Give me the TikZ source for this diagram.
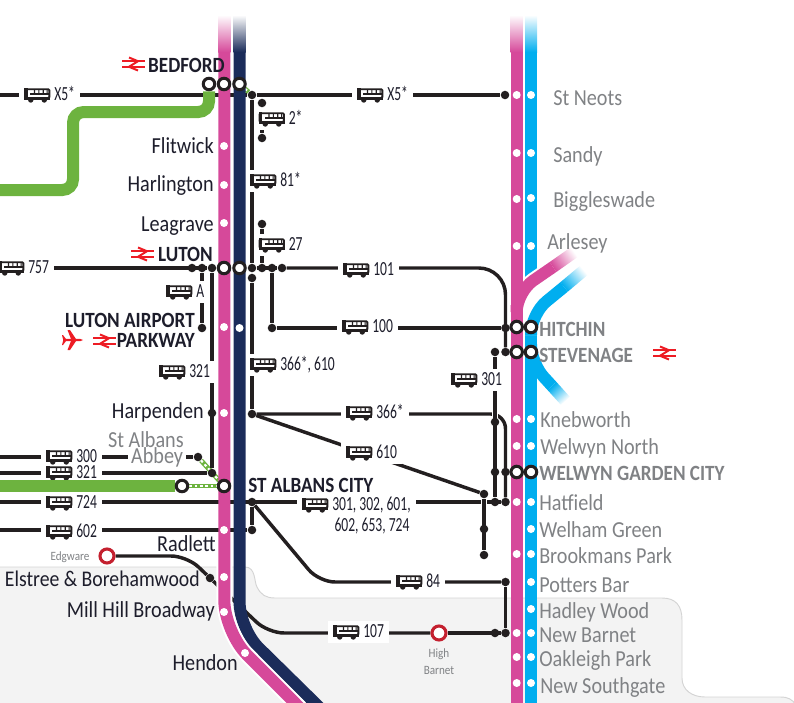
\documentclass[tikz,border=0pt]{standalone}
\usepackage{fontspec}
\usetikzlibrary{calc}
\newfontfamily\mapfont[FakeStretch=0.88]{Carlito}
\newfontfamily\busfont[FakeStretch=0.68]{Carlito}
\definecolor{tlpink}{HTML}{D6499A}
\definecolor{tlnavy}{HTML}{1B2C5A}
\definecolor{tlblue}{HTML}{00AEEF}
\definecolor{tlgreen}{HTML}{6DB33F}
\definecolor{busblack}{HTML}{231F20}
\definecolor{stnred}{HTML}{C4202F}
\definecolor{nrred}{HTML}{ED1C24}
\definecolor{stngrey}{HTML}{808285}
\definecolor{stndark}{HTML}{1D1D2B}
\definecolor{zonefill}{HTML}{F3F3F3}
\definecolor{zoneline}{HTML}{D4D4D4}
\pgfdeclarelayer{under}
\pgfdeclarelayer{lines}
\pgfdeclarelayer{rails}
\pgfsetlayers{under,lines,rails,main}
\tikzset{
  rail/.style={line width=9pt},
  casing/.style={draw=white, line width=12pt},
  busline/.style={draw=busblack, line width=2.6pt},
  halo/.style={busline, preaction={draw=white, line width=5pt}},
  greenlink/.style={draw=tlgreen, line width=3.6pt, postaction={draw=white, line width=1.6pt, dash pattern=on 2pt off 2pt}},
  bdot/.style={circle, fill=busblack, minimum size=6.4pt, inner sep=0pt},
  wdot/.style={circle, fill=white, minimum size=6pt, inner sep=0pt},
  stn/.style={circle, fill=white, draw=busblack, line width=2.3pt, minimum size=8.6pt, inner sep=0pt},
  redstn/.style={circle, fill=white, draw=stnred, line width=2.3pt, minimum size=10.5pt, inner sep=0pt},
  busicon/.pic={
    \draw[busblack, line width=1.4pt, rounded corners=0.8pt] (0.9,-5.8) rectangle (25.1,3);
    \fill[busblack] (0,-6.7) rectangle (3.6,4.4);
    \fill[busblack] (0,2.2) rectangle (26,4.8);
    \fill[busblack] (6,-1.6) rectangle (25,-0.2);
    \fill[busblack] (9.6,-5) rectangle (10.8,-0.4) (14,-5) rectangle (15.2,-0.4) (18.4,-5) rectangle (19.6,-0.4) (22.4,-5) rectangle (23.4,-0.4);
    \fill[busblack] (6.5,5) circle (2.7) (20,5) circle (2.7);
  },
  nrlogo/.pic={
    \draw[nrred, line width=1.5pt] (0,-2.8) -- (23,-2.8) (0,2.8) -- (23,2.8);
    \draw[nrred, line width=1.5pt] (7,-6.5) -- (16,-2.8) -- (7,2.8) -- (16,6.5);
  },
  planeicon/.pic={
    \fill[nrred] (-10,-1) -- (7,-1.2) -- (10,0) -- (7,1.2) -- (-10,1) -- cycle;
    \fill[nrred] (3,-1) -- (-3,-10) -- (-5.5,-10) -- (-2,-1) -- cycle;
    \fill[nrred] (3,1) -- (-3,10) -- (-5.5,10) -- (-2,1) -- cycle;
    \fill[nrred] (-7,-1) -- (-10,-5) -- (-11,-5) -- (-10,-1) -- cycle;
    \fill[nrred] (-7,1) -- (-10,5) -- (-11,5) -- (-10,1) -- cycle;
  },
  busroute/.style={anchor=west, fill=white, text=stndark, font=\busfont\fontsize{15}{16}\selectfont, inner xsep=3.75pt, inner ysep=0pt, minimum height=16.5pt, text height=7.5pt, text depth=0pt,
    execute at begin node={\hspace*{22.5pt}},
    path picture={\pic at ([xshift=3.75pt]path picture bounding box.west) {busicon};}},
  busflat/.style={busroute, minimum height=10.5pt},
  routetext/.style={anchor=base, text=stndark, font=\busfont\fontsize{15}{16}\selectfont, inner sep=0pt},
  stnname/.style={anchor=base east, text=stndark, font=\mapfont\fontsize{17.2}{18}\selectfont, inner sep=0pt},
  stnbold/.style={stnname, font=\mapfont\bfseries\fontsize{16.3}{18}\selectfont},
  farname/.style={anchor=base west, text=stngrey, font=\mapfont\fontsize{17.2}{18}\selectfont, inner sep=0pt},
  farbold/.style={farname, font=\mapfont\bfseries\fontsize{16.3}{18}\selectfont},
  smallname/.style={anchor=base, text=stngrey, font=\mapfont\fontsize{9.5}{11}\selectfont, inner sep=0pt}
}
\begin{document}
\begin{tikzpicture}[x=0.75pt, y=-0.75pt]
  \useasboundingbox (0,0) rectangle (794,703);

  % zone behind the lower part
  \begin{pgfonlayer}{under}
    \fill[zonefill, draw=zoneline, line width=0.7pt] (-2,567) -- (245,567) .. controls (256,567) and (254,582) .. (257,587) .. controls (261,595) and (266,598) .. (275,598) -- (662,598) .. controls (676,598) and (682,606) .. (682,620) -- (682,678) .. controls (682,690) and (692,697) .. (705,697) -- (780,697) .. controls (788,697) and (792,699) .. (796,705) -- (-2,705) -- cycle;
  \end{pgfonlayer}

  % station dots
  \node[wdot] (pFlit) at (224,146) {};
  \node[wdot] (pHarl) at (224,185) {};
  \node[wdot] (pLeag) at (224,223) {};
  \node[wdot] (pPark) at (224,327) {};
  \node[wdot] (nPark) at (239.5,328) {};
  \node[wdot] (pHarp) at (224,413) {};
  \node[wdot] (pRadl) at (224,530) {};
  \node[wdot] (pElst) at (224,577) {};
  \node[wdot] (pMill) at (224,612) {};
  \node[wdot] (pHend) at (245,653) {};
  \node[wdot] (pNeot) at (516.7,95) {};
  \node[wdot] (cNeot) at (531,95) {};
  \node[wdot] (pSand) at (516.7,153) {};
  \node[wdot] (cSand) at (531,153) {};
  \node[wdot] (pBigg) at (516.7,199) {};
  \node[wdot] (cBigg) at (531,198) {};
  \node[wdot] (pArle) at (516.7,246) {};
  \node[wdot] (cArle) at (531,246) {};
  \node[wdot] (pKneb) at (516.7,419) {};
  \node[wdot] (cKneb) at (531,419) {};
  \node[wdot] (pWNor) at (516.7,446) {};
  \node[wdot] (cWNor) at (531,446) {};
  \node[wdot] (pHatf) at (516.7,502) {};
  \node[wdot] (cHatf) at (531,502) {};
  \node[wdot] (cWelh) at (531,529) {};
  \node[wdot] (pBrok) at (516.7,554) {};
  \node[wdot] (cBrok) at (531,554) {};
  \node[wdot] (cPott) at (531,582) {};
  \node[wdot] (cHadl) at (531,609) {};
  \node[wdot] (pBarn) at (516.7,633) {};
  \node[wdot] (cBarn) at (531,633) {};
  \node[wdot] (pOakl) at (516.7,657) {};
  \node[wdot] (cOakl) at (531,657) {};
  \node[wdot] (pSout) at (516.7,683) {};
  \node[wdot] (cSout) at (531,683) {};

  % interchanges
  \node[stn] (bedG) at (209,84) {};
  \node[stn] (bedP) at (224,84) {};
  \node[stn] (bedN) at (239.5,84) {};
  \node[stn] (lutP) at (224,268) {};
  \node[stn] (lutN) at (239.5,268) {};
  \node[stn] (cityG) at (182,486) {};
  \node[stn] (cityP) at (224,486) {};
  \node[stn] (hitP) at (516.7,327) {};
  \node[stn] (hitC) at (531,327) {};
  \node[stn] (steP) at (516.7,352) {};
  \node[stn] (steC) at (531,352) {};
  \node[stn] (wgcP) at (516.7,472) {};
  \node[stn] (wgcC) at (531,472) {};
  \node[redstn] (edgw) at (107,556) {};
  \node[redstn] (high) at (439,633) {};

  % bus stops
  \node[bdot] (bBed) at (252,95) {};
  \node[bdot] (bNeot) at (505,95) {};
  \node[bdot] (b2top) at (262,103) {};
  \node[bdot] (b2bot) at (262,138) {};
  \node[bdot] (b27top) at (262,224) {};
  \node[bdot] (bLuA) at (192,268) {};
  \node[bdot] (bLuB) at (202,268) {};
  \node[bdot] (bLuC) at (212,268) {};
  \node[bdot] (bLuD) at (252,268) {};
  \node[bdot] (bLuE) at (262,268) {};
  \node[bdot] (bLuF) at (272,268) {};
  \node[bdot] (bLuG) at (282,268) {};
  \node[bdot] (bLuH) at (252,278) {};
  \node[bdot] (bPark) at (202,328) {};
  \node[bdot] (b100w) at (272,328) {};
  \node[bdot] (b100e) at (505.5,328) {};
  \node[bdot] (bSteA) at (495,352) {};
  \node[bdot] (bSteB) at (505.5,352) {};
  \node[bdot] (bHarp) at (212,413) {};
  \node[bdot] (bHarE) at (252,414) {};
  \node[bdot] (bKneb) at (495,422) {};
  \node[bdot] (bAbbey) at (198,457) {};
  \node[bdot] (b321e) at (212,473) {};
  \node[bdot] (bWgcA) at (495,472) {};
  \node[bdot] (bWgcB) at (505.5,472) {};
  \node[bdot] (b610e) at (484,494) {};
  \node[bdot] (bCity) at (252,502) {};
  \node[bdot] (bHatA) at (495,502) {};
  \node[bdot] (bHatB) at (505.5,502) {};
  \node[bdot] (b602e) at (252,530) {};
  \node[bdot] (bWelh) at (484,529) {};
  \node[bdot] (bBrok) at (484,555) {};
  \node[bdot] (bElst) at (210,578) {};
  \node[bdot] (b84e) at (505.5,582) {};
  \node[bdot] (bBarA) at (495,633) {};
  \node[bdot] (bBarB) at (505.5,633) {};

  % free ends and bends
  \coordinate (x5w) at (0,95);
  \coordinate (w757) at (0,268);
  \coordinate (w300) at (0,457);
  \coordinate (w321) at (0,473);
  \coordinate (w724) at (0,502);
  \coordinate (w602) at (0,530);
  \coordinate (greenw) at (0,486);
  \coordinate (edgwkink) at (187,556);
  \coordinate (barnkink) at (268,633);
  \coordinate (kink84) at (319,582);
  \coordinate (bend101) at (505.5,268);

  \begin{pgfonlayer}{under}
    \draw[greenlink] (bAbbey) -- (cityP);
    \draw[greenlink] (cityG) -- (cityP);
    \draw[greenlink] (bedN) -- (bBed);
  \end{pgfonlayer}

  % bus links
  \begin{pgfonlayer}{lines}
    \draw[busline] (x5w) -- (bBed) -- (bNeot);
    \draw[busline] (bBed) -- (bLuD);
    \draw[busline] (b2top) -- (b2bot);
    \draw[busline] (b27top) -- (bLuE);
    \draw[busline] (w757) -- (bLuC);
    \draw[busline] (bLuD) -- (bLuG);
    \draw[busline, rounded corners=20pt] (bLuG) -- (bend101) -- (bSteB);
    \draw[busline] (bLuF) -- (b100w) -- (b100e);
    \draw[busline] (bLuB) -- (bPark);
    \draw[busline] (bLuC) -- (b321e);
    \draw[busline] (bLuH) -- (bHarE);
    \draw[busline, rounded corners=11pt] (bHarE) -| (bHatB);
    \draw[busline] (bHarE) -- (b610e);
    \draw[busline] (w300) -- (bAbbey);
    \draw[busline] (w321) -- (b321e);
    \draw[busline] (w602) -- (b602e);
    \draw[busline] (bCity) -- (b602e);
    \draw[busline, rounded corners=12pt] (bCity) -- (kink84) -- (b84e);
    \draw[busline] (b84e) -- (bBarB);
    \draw[busline] (w724) -- (bHatB);
    \draw[halo] (bSteA) -- (bHatA);
    \draw[halo] (b610e) -- (bBrok);
    \draw[busline, rounded corners=12pt] (edgw) -- (edgwkink) -- (bElst) -- (barnkink) -- (high);
    \draw[busline] (high) -- (bBarB);

    \node[busroute] (x5a) at (19,95) {X5*};
    \node[busroute] (x5b) at (352,95) {X5*};
    \node[busroute] (r2) at (253.5,119) {2*};
    \node[busroute] (r81) at (245,181) {81*};
    \node[busroute] (r27) at (253.5,245) {27};
    \node[busroute] (r757) at (-7,268) {757};
    \node[busroute] (r101) at (338,270) {101};
    \node[busroute] (r100) at (337,327) {100};
    \node[busroute] (rA) at (161,292) {A};
    \node[busroute] (r321n) at (154,372) {321};
    \node[busroute] (r366a) at (245,365) {366*, 610};
    \node[busroute] (r366) at (341,413) {366*};
    \node[busroute] (r610) at (341,453) {610};
    \node[busroute] (r301) at (446,380) {301};
    \node[busflat] (r300) at (41,457) {300};
    \node[busflat] (r321) at (41,473) {321};
    \node[busflat] (r724) at (41,503) {724};
    \node[busflat] (r602) at (41,532) {602};
    \node[busflat] (r301m) at (297,505) {301, 302, 601,};
    \node[busroute] (r84) at (391,582) {84};
    \node[busroute] (r107) at (328,632) {107};
    \node[anchor=base east, fill=white, text=stngrey, font=\mapfont\fontsize{17.2}{18}\selectfont, inner xsep=2pt, inner ysep=1pt] (lAbbey) at (186,463) {Abbey};
  \end{pgfonlayer}

  % rail lines
  \begin{pgfonlayer}{rails}
    \coordinate (pinkkink) at (224.3,632);
    \coordinate (navykink) at (239.6,629);
    \coordinate (pinkend) at (300,708);
    \coordinate (navyend) at (320,708);
    \coordinate (pbkink) at (516.7,292);
    \coordinate (cbkink) at (531,314);
    \coordinate (cskink) at (531,363);
    \shade[top color=white, bottom color=tlnavy] (233.5,15) rectangle (245.7,52);
    \draw[tlnavy, rail, rounded corners=20pt] (239.6,52) -- (navykink) -- (navyend);
    \draw[white, line width=12pt, rounded corners=24pt] (224.3,560) -- (pinkkink) -- (pinkend);
    \shade[top color=white, bottom color=tlpink] (218.3,15) rectangle (230.3,52);
    \draw[tlpink, rail, rounded corners=24pt] (224.3,52) -- (pinkkink) -- (pinkend);

    \shade[top color=white, bottom color=tlblue] (525,15) rectangle (537.2,52);
    \draw[tlblue, rail] (531,52) -- (531,285);
    \draw[tlblue, rail] (531,327) -- (531,708);
    \draw[tlblue, rail, rounded corners=14pt] (531,345) -- (cskink) -- (552,386);
    \shade[left color=tlblue, right color=white, transform canvas={shift={(552,386)}, rotate=-48}] (0,-6) rectangle (20,6);
    \draw[casing, rounded corners=15pt] (531,335) -- (cbkink) -- (564,287);
    \draw[tlblue, rail, rounded corners=15pt] (531,335) -- (cbkink) -- (564,287);
    \shade[left color=tlblue, right color=white, transform canvas={shift={(564,287)}, rotate=40}] (0,-6) rectangle (26,6);
    \draw[casing, rounded corners=15pt] (516.7,305) -- (pbkink) -- (553,267);
    \shade[top color=white, bottom color=tlpink] (510.7,15) rectangle (522.7,52);
    \draw[tlpink, rail] (516.7,52) -- (516.7,708);
    \draw[tlpink, rail, rounded corners=15pt] (516.7,305) -- (pbkink) -- (553,267);
    \shade[left color=tlpink, right color=white, transform canvas={shift={(553,267)}, rotate=35}] (0,-6) rectangle (26,6);
    \draw[tlgreen, rail, rounded corners=8pt] (bedG) -- (209,112) -- (73,112) -- (73,190) -- (0,190);
    \draw[tlgreen, rail] (greenw) -- (cityG);
  \end{pgfonlayer}

  % names
  \node[stnbold] (lBedf) at (225,72) {BEDFORD};
  \node[stnname] (lFlit) at (214,153) {Flitwick};
  \node[stnname] (lHarl) at (214,191) {Harlington};
  \node[stnname] (lLeag) at (214,231) {Leagrave};
  \node[stnbold] (lLuto) at (213,261) {LUTON};
  \node[stnbold] (lAirp) at (195,327) {LUTON AIRPORT};
  \node[stnbold] (lPark) at (195,347) {PARKWAY};
  \node[stnname] (lHarp) at (204,418) {Harpenden};
  \node[anchor=base east, text=stngrey, font=\mapfont\fontsize{17.2}{18}\selectfont, inner sep=0pt] (lStAl) at (184,447) {St Albans};
  \node[stnbold, anchor=base west] (lCity) at (248,492) {ST ALBANS CITY};
  \node[stnname] (lRadl) at (216,551) {Radlett};
  \node[stnname, font=\mapfont\fontsize{16.8}{18}\selectfont] (lElst) at (200,586) {Elstree \& Borehamwood};
  \node[stnname] (lMill) at (215,617) {Mill Hill Broadway};
  \node[stnname] (lHend) at (238,670) {Hendon};
  \node[smallname] (lEdgw) at (70,560) {Edgware};
  \node[smallname] (lHigh) at (439,657) {High};
  \node[smallname] (lBarn) at (439,674) {Barnet};
  \node[farname] (lNeot) at (553,105) {St Neots};
  \node[farname] (lSand) at (553,162) {Sandy};
  \node[farname] (lBigg) at (553,207) {Biggleswade};
  \node[farname] (lArle) at (547,249) {Arlesey};
  \node[farbold] (lHitc) at (539,336) {HITCHIN};
  \node[farbold] (lStev) at (539,362) {STEVENAGE};
  \node[farname] (lKneb) at (540,427) {Knebworth};
  \node[farname] (lWNor) at (540,454) {Welwyn North};
  \node[farbold] (lWgc) at (539,480) {WELWYN GARDEN CITY};
  \node[farname] (lHatf) at (539,510) {Hatfield};
  \node[farname] (lWelh) at (539,537) {Welham Green};
  \node[farname] (lBrok) at (539,563) {Brookmans Park};
  \node[farname] (lPott) at (539,592) {Potters Bar};
  \node[farname] (lHadl) at (539,618) {Hadley Wood};
  \node[farname] (lBarN) at (539,642) {New Barnet};
  \node[farname] (lOakl) at (539,666) {Oakleigh Park};
  \node[farname] (lSout) at (540,693) {New Southgate};
  \node[routetext] (l301b) at (372,531) {602, 653, 724};

  \pic at (122,64) {nrlogo};
  \pic at (131,254) {nrlogo};
  \pic at (93,341) {nrlogo};
  \pic at (653,353) {nrlogo};
  \pic at (73,340) {planeicon};
\end{tikzpicture}
\end{document}
